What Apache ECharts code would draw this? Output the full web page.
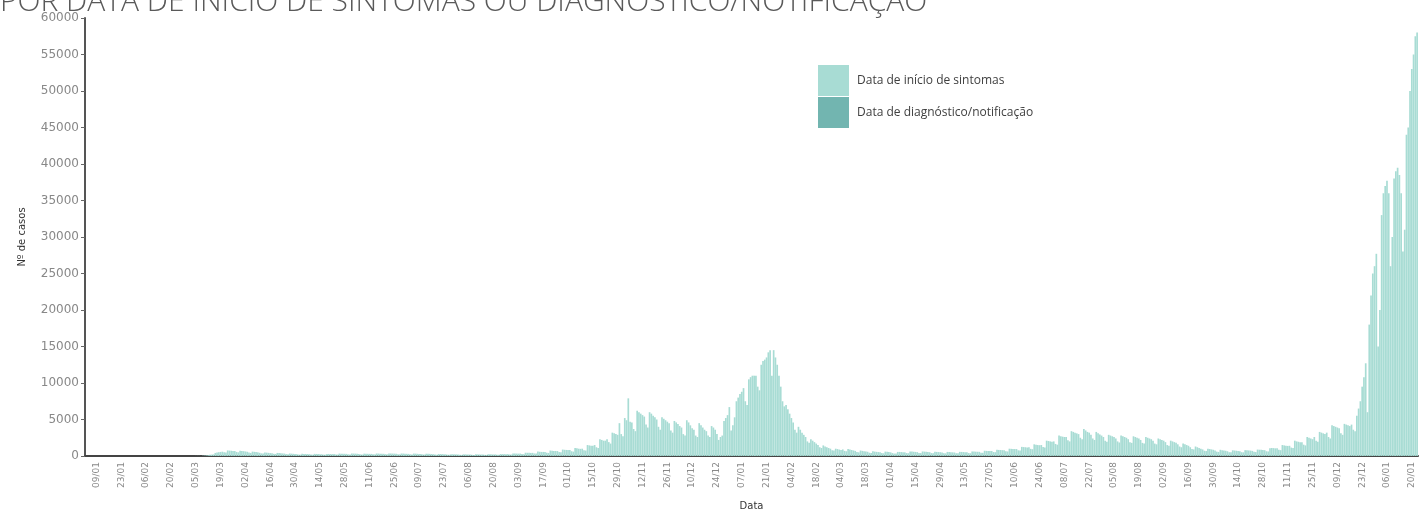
<!DOCTYPE html>
<html lang="pt">
<head>
<meta charset="UTF-8">
<title>Casos por data de início de sintomas</title>
<script src="https://cdn.jsdelivr.net/npm/echarts@6/dist/echarts.min.js"></script>
<style>
  html, body { margin: 0; padding: 0; background: #fff; }
</style>
</head>
<body>
<div id="main" style="width: 1419px; height: 511px;"></div>
<script>
// first day of the series, one bar per day after it
let startDate = '2020-01-03';
let seriesNames = ['Data de início de sintomas', 'Data de diagnóstico/notificação'];
let yTicks = [0, 5000, 10000, 15000, 20000, 25000, 30000, 35000, 40000, 45000, 50000, 55000, 60000];

// daily cases by symptom onset, one row per week (Fri..Thu)
let sintomas = [
  0,0,0,0,0,0,0,  0,0,0,0,0,0,0,  0,0,0,0,0,0,0,  0,0,0,0,0,0,0,
  0,0,0,0,0,0,0,  0,0,0,0,0,0,0,  0,0,0,0,0,0,0,  0,0,0,0,0,0,0,
  0,0,0,2,3,5,8,
  12,10,15,40,55,80,110,
  180,190,220,420,470,520,560,
  590,520,480,760,740,720,700,
  680,560,500,720,700,660,620,
  580,470,420,600,570,540,500,
  440,360,330,480,460,430,400,
  380,300,280,420,400,380,350,
  330,260,240,340,320,300,290,
  250,200,190,300,290,280,270,
  250,200,180,290,280,270,250,
  240,190,180,280,280,270,260,
  260,210,200,330,320,310,300,
  290,230,210,340,330,320,300,
  280,220,200,320,310,300,290,
  290,240,220,340,330,320,310,
  300,250,230,350,340,330,320,
  310,250,230,340,330,320,300,
  290,230,210,330,320,300,290,
  270,220,200,310,300,290,270,
  250,200,180,280,270,260,250,
  230,180,170,250,240,230,220,
  210,170,150,230,220,210,200,
  200,160,150,230,220,210,200,
  200,160,150,240,230,220,210,
  220,180,170,270,260,260,250,
  260,210,200,340,330,330,320,
  330,270,250,450,440,430,420,
  430,350,330,600,580,560,560,
  560,450,420,750,720,700,690,
  680,540,500,880,850,830,820,
  820,650,600,1100,1050,1000,980,
  1000,800,750,1500,1450,1400,1400,
  1500,1200,1100,2300,2200,2100,2100,
  2300,1900,1700,3200,3100,3000,2900,
  4500,3000,2700,5200,4900,7900,4700,
  4600,3700,3400,6200,6000,5800,5600,
  5400,4300,3900,6000,5800,5500,5300,
  5000,4000,3600,5300,5100,4900,4700,
  4500,3500,3200,4800,4600,4400,4100,
  3900,3000,2800,4900,4600,4200,3800,
  3600,2800,2600,4500,4200,3900,3600,
  3400,2800,2600,4100,3900,3600,3000,
  2200,2600,2800,4800,5200,5600,6700,
  3500,4200,5300,7500,8000,8500,8800,
  9300,7500,7000,10500,10800,11000,11000,
  11000,9500,9000,12500,13000,13200,13500,
  14200,14500,11000,14500,13500,12500,11000,
  9500,7500,6800,7000,6400,5800,5200,
  4600,3600,3200,4000,3600,3200,2900,
  2600,2000,1800,2300,2100,1900,1700,
  1500,1200,1100,1450,1300,1200,1100,
  1000,800,750,1000,950,880,820,
  900,700,650,950,880,820,760,
  700,540,500,750,700,660,620,
  580,450,420,640,600,570,540,
  520,400,370,600,570,540,500,
  400,330,350,560,560,540,520,
  500,400,380,620,600,580,560,
  530,420,400,620,600,580,550,
  520,400,380,580,560,540,520,
  480,380,360,560,540,520,500,
  480,380,360,570,560,540,520,
  500,400,380,620,600,590,580,
  570,460,440,720,700,690,680,
  680,540,520,850,830,820,800,
  800,650,620,1000,980,960,950,
  950,780,740,1250,1220,1200,1180,
  1200,980,930,1600,1550,1500,1480,
  1500,1250,1180,2100,2050,2000,1950,
  2000,1650,1550,2800,2700,2650,2600,
  2600,2150,2000,3400,3300,3200,3100,
  3000,2500,2300,3700,3500,3300,3200,
  2900,2400,2200,3300,3100,2950,2800,
  2600,2100,1950,2900,2800,2700,2600,
  2400,2000,1850,2800,2700,2600,2500,
  2300,1900,1800,2700,2600,2500,2400,
  2200,1800,1700,2600,2500,2400,2300,
  2100,1700,1600,2400,2300,2200,2100,
  1900,1500,1400,2100,2000,1900,1800,
  1600,1300,1200,1700,1600,1500,1400,
  1200,950,900,1300,1200,1100,1000,
  900,720,680,1000,950,900,850,
  750,600,560,850,800,760,720,
  650,520,500,780,750,720,700,
  650,520,500,800,780,760,740,
  700,570,540,880,860,840,820,
  800,650,620,1050,1100,1080,1050,
  1050,850,800,1500,1450,1400,1380,
  1400,1150,1100,2100,2000,1950,1900,
  1900,1550,1450,2600,2500,2400,2300,
  2600,2100,1950,3300,3200,3100,3000,
  3200,2600,2400,4200,4100,4000,3900,
  3800,3100,2900,4400,4300,4200,4100,
  4300,3600,3400,5500,6500,7500,9500,
  10800,12700,6000,18000,22000,25000,26000,
  27700,15000,20000,33000,36000,37000,37700,
  36000,26000,30000,38000,39000,39500,38500,
  36000,28000,31000,44000,45000,50000,53000,
  55000,57500,58000
];

// the notification series is only shown in the legend in the source chart
let diagnostico = [];

function pad(n) { return (n < 10 ? '0' : '') + n; }

let categories = [];
let d0 = new Date(startDate + 'T00:00:00Z');
for (let i = 0; i < sintomas.length; i++) {
  let d = new Date(d0.getTime() + i * 86400000);
  categories.push(pad(d.getUTCDate()) + '/' + pad(d.getUTCMonth() + 1));
}

// a label every 14 days, starting at 09/01
function showTick(i) { return (i - 6) % 14 === 0; }

let chart = echarts.init(document.getElementById('main'));
chart.setOption({
  animation: false,
  backgroundColor: '#fff',
  textStyle: { fontFamily: 'DejaVu Sans, sans-serif' },
  graphic: [{
    type: 'text',
    left: 0,
    top: -13,
    style: {
      text: 'POR DATA DE INÍCIO DE SINTOMAS OU DIAGNÓSTICO/NOTIFICAÇÃO',
      font: '300 30px "Open Sans", sans-serif',
      fill: '#595959'
    }
  }],
  legend: {
    orient: 'vertical',
    left: 813,
    top: 60,
    icon: 'rect',
    itemWidth: 31,
    itemHeight: 31,
    itemGap: 1,
    textStyle: { fontFamily: 'Open Sans', fontSize: 12, color: '#404040', padding: [0, 0, 0, 3] },
    data: seriesNames
  },
  grid: { left: 85, right: 1, top: 18, bottom: 55, containLabel: false, outerBoundsMode: 'none' },
  xAxis: {
    type: 'category',
    data: categories,
    name: 'Data',
    nameLocation: 'middle',
    nameGap: 45,
    nameMoveOverlap: false,
    nameTextStyle: { fontSize: 10, color: '#333' },
    axisLine: { lineStyle: { color: '#444', width: 2 } },
    axisTick: { interval: showTick, alignWithLabel: true, length: 4, lineStyle: { color: '#666' } },
    axisLabel: { interval: showTick, rotate: 90, fontSize: 9, color: '#888', margin: 6 }
  },
  yAxis: {
    type: 'value',
    min: yTicks[0],
    max: yTicks[yTicks.length - 1],
    interval: yTicks[1] - yTicks[0],
    name: 'Nº de casos',
    nameLocation: 'middle',
    nameGap: 58,
    nameMoveOverlap: false,
    nameRotate: 90,
    nameTextStyle: { fontSize: 10, color: '#333' },
    axisLine: { show: true, lineStyle: { color: '#555', width: 2 } },
    axisTick: { show: true, length: 4, lineStyle: { color: '#666' } },
    axisLabel: { fontSize: 12, color: '#888', margin: 6, formatter: v => String(v) },
    splitLine: { show: false }
  },
  series: [{
    name: seriesNames[0],
    type: 'bar',
    data: sintomas,
    barCategoryGap: '5%',
    itemStyle: { color: '#a8dcd4' }
  }, {
    name: seriesNames[1],
    type: 'bar',
    data: diagnostico,
    barGap: '-100%',
    itemStyle: { color: '#72b5b0' }
  }]
});
</script>
</body>
</html>
